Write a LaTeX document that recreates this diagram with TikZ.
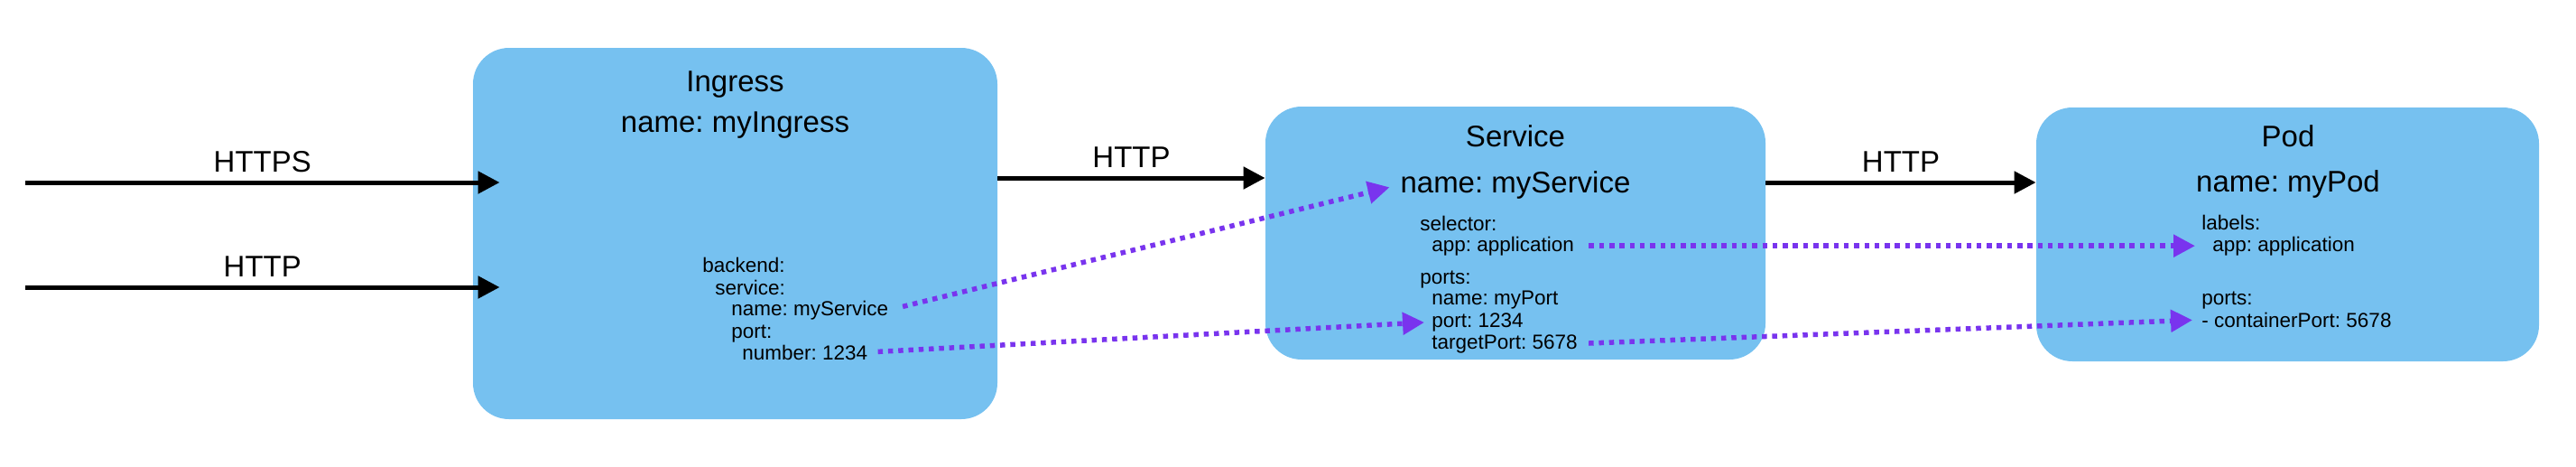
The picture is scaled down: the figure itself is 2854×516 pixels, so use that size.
\documentclass[tikz,border=0pt]{standalone}
\usepackage{fontspec}
\setmainfont{Liberation Sans}
\usetikzlibrary{arrows.meta}
\definecolor{boxblue}{RGB}{118,193,240}
\definecolor{linkpurple}{RGB}{121,52,238}
\frenchspacing
\begin{document}
\begin{tikzpicture}[x=0.5pt,y=-0.5pt,
  box/.style={rectangle, rounded corners=20pt, fill=boxblue, draw=none, inner sep=0pt},
  title/.style={anchor=base, inner sep=0pt, font=\fontsize{16.5pt}{19pt}\selectfont},
  body/.style={anchor=base west, inner sep=0pt, font=\fontsize{11.25pt}{13.5pt}\selectfont},
  flow/.style={line width=2.5pt, -{Triangle[length=12pt,width=12pt]}},
  link/.style={linkpurple, line width=2.75pt, dash pattern=on 2.75pt off 2.9pt, -{Triangle[length=12pt,width=12pt]}},
  proto/.style={midway, above=4.5pt, inner sep=0pt, font=\fontsize{16.5pt}{19pt}\selectfont}
]
\useasboundingbox (0,0) rectangle (2854,516);

% boxes
\node[box, minimum width=290.5pt, minimum height=205.5pt] (ingress) at (814.5,258.5) {};
\node[box, minimum width=277pt, minimum height=140pt] (service) at (1679,258) {};
\node[box, minimum width=278.5pt, minimum height=140.5pt] (pod) at (2534.5,259.5) {};

% titles
\node[title] (ingT) at (814.5,101) {Ingress};
\node[title] (ingN) at (814.5,146) {name: myIngress};
\node[title] (svcT) at (1679,162) {Service};
\node[title] (svcN) at (1679,213) {name: myService};
\node[title] (podT) at (2535,162) {Pod};
\node[title] (podN) at (2535,212) {name: myPod};

% ingress body
\node[body] (ingB1) at (778,301) {backend:};
\node[body] (ingB2) at (792,326) {service:};
\node[body] (ingB3) at (810,349) {name: myService};
\node[body] (ingB4) at (810,374) {port:};
\node[body] (ingB5) at (822,398) {number: 1234};

% service body
\node[body] (svcB1) at (1573,255) {selector:};
\node[body] (svcB2) at (1586,278) {app: application};
\node[body] (svcB3) at (1573,314) {ports:};
\node[body] (svcB4) at (1586,337) {name: myPort};
\node[body] (svcB5) at (1586,362) {port: 1234};
\node[body] (svcB6) at (1586,386) {targetPort: 5678};

% pod body
\node[body] (podB1) at (2439,254) {labels:};
\node[body] (podB2) at (2451,278) {app: application};
\node[body] (podB3) at (2439,337) {ports:};
\node[body] (podB4) at (2439,362) {- containerPort: 5678};

% traffic arrows
\coordinate (srcS) at (28,202);
\coordinate (srcH) at (28,318);
\draw[flow] (srcS) -- ([xshift=15pt]ingress.west |- srcS) node[proto] {HTTPS};
\draw[flow] (srcH) -- ([xshift=15pt]ingress.west |- srcH) node[proto] {HTTP};
\draw[flow] ([yshift=30.75pt]ingress.east) -- ([yshift=30.75pt]ingress.east -| service.west) node[proto] {HTTP};
\draw[flow] ([yshift=28pt]service.east) -- ([yshift=28pt]service.east -| pod.west) node[proto] {HTTP};

% reference links
\draw[link, shorten <=8pt, shorten >=6pt] (ingB3.east) -- (svcN.west);
\draw[link, shorten <=5.5pt, shorten >=4pt] (ingB5.east) -- (svcB5.west);
\draw[link, shorten <=8pt, shorten >=9.5pt] (svcB2.east) -- (podB2.west);
\draw[link, shorten <=6pt, shorten >=5pt] (svcB6.east) -- (podB4.west);
\end{tikzpicture}
\end{document}
